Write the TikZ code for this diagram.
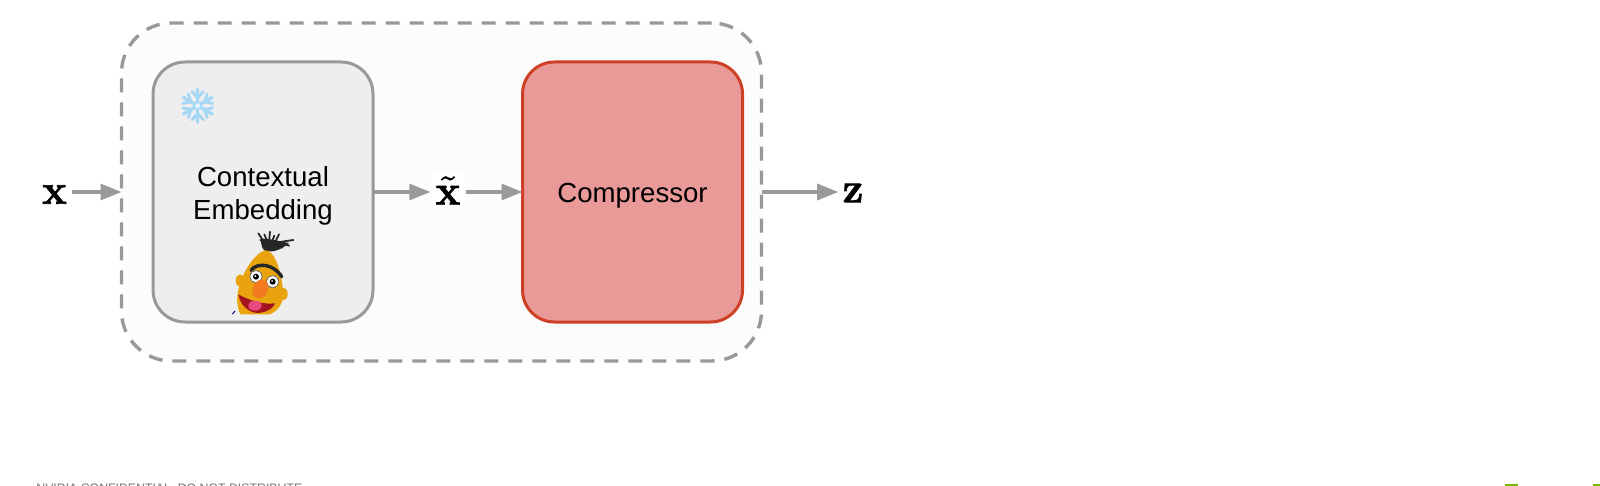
\documentclass[tikz,border=0pt]{standalone}
\usepackage[no-math]{fontspec}
\setmainfont{Liberation Sans}
\usetikzlibrary{arrows.meta}
\definecolor{linegray}{HTML}{999999}
\definecolor{wrapfill}{HTML}{FCFCFC}
\definecolor{embedfill}{HTML}{EEEEEE}
\definecolor{compfill}{HTML}{EA9999}
\definecolor{compline}{HTML}{CC4125}
\definecolor{flakeblue}{HTML}{A6D7F5}
\definecolor{bertskin}{HTML}{E8A30E}
\definecolor{bertnose}{HTML}{F47A1F}
\definecolor{bertmouth}{HTML}{A3141E}
\definecolor{berttongue}{HTML}{E84A7F}
\definecolor{nvgreen}{HTML}{76B900}
\newcommand{\heavy}[1]{\special{pdf:code 2 Tr 0.35 w}#1\special{pdf:code 0 Tr}}
\begin{document}
\begin{tikzpicture}[x=0.5pt, y=-0.5pt,
                    block/.style={draw, line width=1.5pt, rounded corners=16pt, minimum width=110pt,
                                  minimum height=130pt, outer sep=0pt},
                    blocktext/.style={align=center, inner sep=0pt, font=\fontsize{13.8}{16.5}\selectfont},
                    sym/.style={font=\fontsize{21}{25}\selectfont, inner sep=2pt},
                    flow/.style={draw=linegray, line width=1.6pt, -{Triangle[length=10.5pt, width=8pt]}}]
  \useasboundingbox (0,0) rectangle (1600,486);
  \fill[white] (0,0) rectangle (1600,486);
  \node[draw=linegray, fill=wrapfill, line width=1.7pt, dash pattern=on 7pt off 5pt, rounded corners=25pt,
        minimum width=320pt, minimum height=169pt, outer sep=0pt] (wrap) at (441.5,192) {};
  \node[block, draw=linegray, fill=embedfill] (embed) at (263,192) {};
  \node[block, draw=compline, fill=compfill] (comp) at (632.5,192) {};
  \node[blocktext] (embedtext) at ([yshift=-2pt]embed.center) {Contextual\\Embedding};
  \node[blocktext] (comptext) at ([yshift=-2pt]comp.center) {Compressor};
  \node[sym, inner sep=2.5pt] (x) at (54.5,194.5) {\heavy{$\mathbf{x}$}};
  \node[sym, fill=white, inner sep=2.5pt] (xtilde) at (448,190.5) {\heavy{$\tilde{\mathbf{x}}$}};
  \node[sym] (z) at (853,193) {\heavy{$\mathbf{z}$}};
  \draw[flow] (x.east |- wrap.west) -- (wrap.west);
  \draw[flow] (embed.east) -- (xtilde.west |- embed.east);
  \draw[flow] (xtilde.east |- comp.west) -- (comp.west);
  \draw[flow] (wrap.east) -- (z.west |- wrap.east);
  \begin{scope}[shift={(197.7,105.7)}]
    \foreach \ang in {30,90,150,210,270,330} {
      \begin{scope}[rotate=\ang]
        \draw[flakeblue, line width=1.7pt, line cap=round] (0,0) -- (16.5,0);
        \draw[flakeblue, line width=1.5pt, line cap=round] (8,0) -- (14,-5.5) (8,0) -- (14,5.5);
      \end{scope}
    }
    \fill[flakeblue] (0,0) circle (4.5);
    \fill[white!70!flakeblue] (0,0) circle (2.5);
  \end{scope}
  \begin{scope}[shift={(225,225)}, scale=1/3]
    \fill[bertskin] (45,167) ellipse (13 and 19);
    \fill[bertskin] (176,207) ellipse (12 and 19);
    \foreach \basex/\tipx/\tipy in {118/100/25,122/106/45,128/118/28,132/135/20,140/148/32,150/162/28,155/205/45,160/192/62,165/172/68} {
      \draw[black!85, line width=0.9pt, line cap=round] (\basex,66) .. controls (\basex,52) .. (\tipx,\tipy);
    }
    \fill[black!85] (106,42) .. controls (130,38) and (165,50) .. (192,54) .. controls (172,72) and (145,84) .. (120,78) .. controls (112,72) .. (106,42);
    \fill[bertskin] (118,76) .. controls (135,72) and (150,95) .. (160,125)
      .. controls (170,155) and (175,190) .. (174,215) .. controls (172,240) and (155,260) .. (135,268)
      -- (46,268) .. controls (36,245) and (34,220) .. (40,195)
      .. controls (50,145) and (85,90) .. (118,76) -- cycle;
    \draw[black!85, line width=1.7pt, line cap=round] (78,136) .. controls (95,112) and (145,115) .. (170,155);
    \fill[black!60] (93,155) circle (19);
    \fill[black!60] (143,170) circle (19);
    \fill[white] (93,155) circle (17);
    \fill[white] (143,170) circle (17);
    \fill[black] (93,155) circle (9);
    \fill[black] (143,170) circle (9);
    \fill[white] (91,153) circle (3);
    \fill[white] (141,168) circle (3);
    \fill[bertmouth] (40,208) .. controls (70,225) and (115,240) .. (150,235)
      .. controls (142,256) and (110,268) .. (85,262) .. controls (62,254) and (45,235) .. (40,208) -- cycle;
    \fill[berttongue] (90,242) ellipse (20 and 15);
    \fill[bertnose, rotate around={-25:(106,192)}] (106,192) ellipse (23 and 29);
    \draw[blue!60!black, line width=0.5pt] (22,267) -- (30,258);
  \end{scope}
  \node[anchor=north west, inner sep=0pt, text=black!55, font=\fontsize{6.15}{7}\selectfont] (footer) at (36,484) {NVIDIA CONFIDENTIAL. DO NOT DISTRIBUTE.};
  \fill[nvgreen] (1505,483.5) rectangle (1518,486);
  \fill[nvgreen] (1593,483.5) rectangle (1600,486);
\end{tikzpicture}
\end{document}
